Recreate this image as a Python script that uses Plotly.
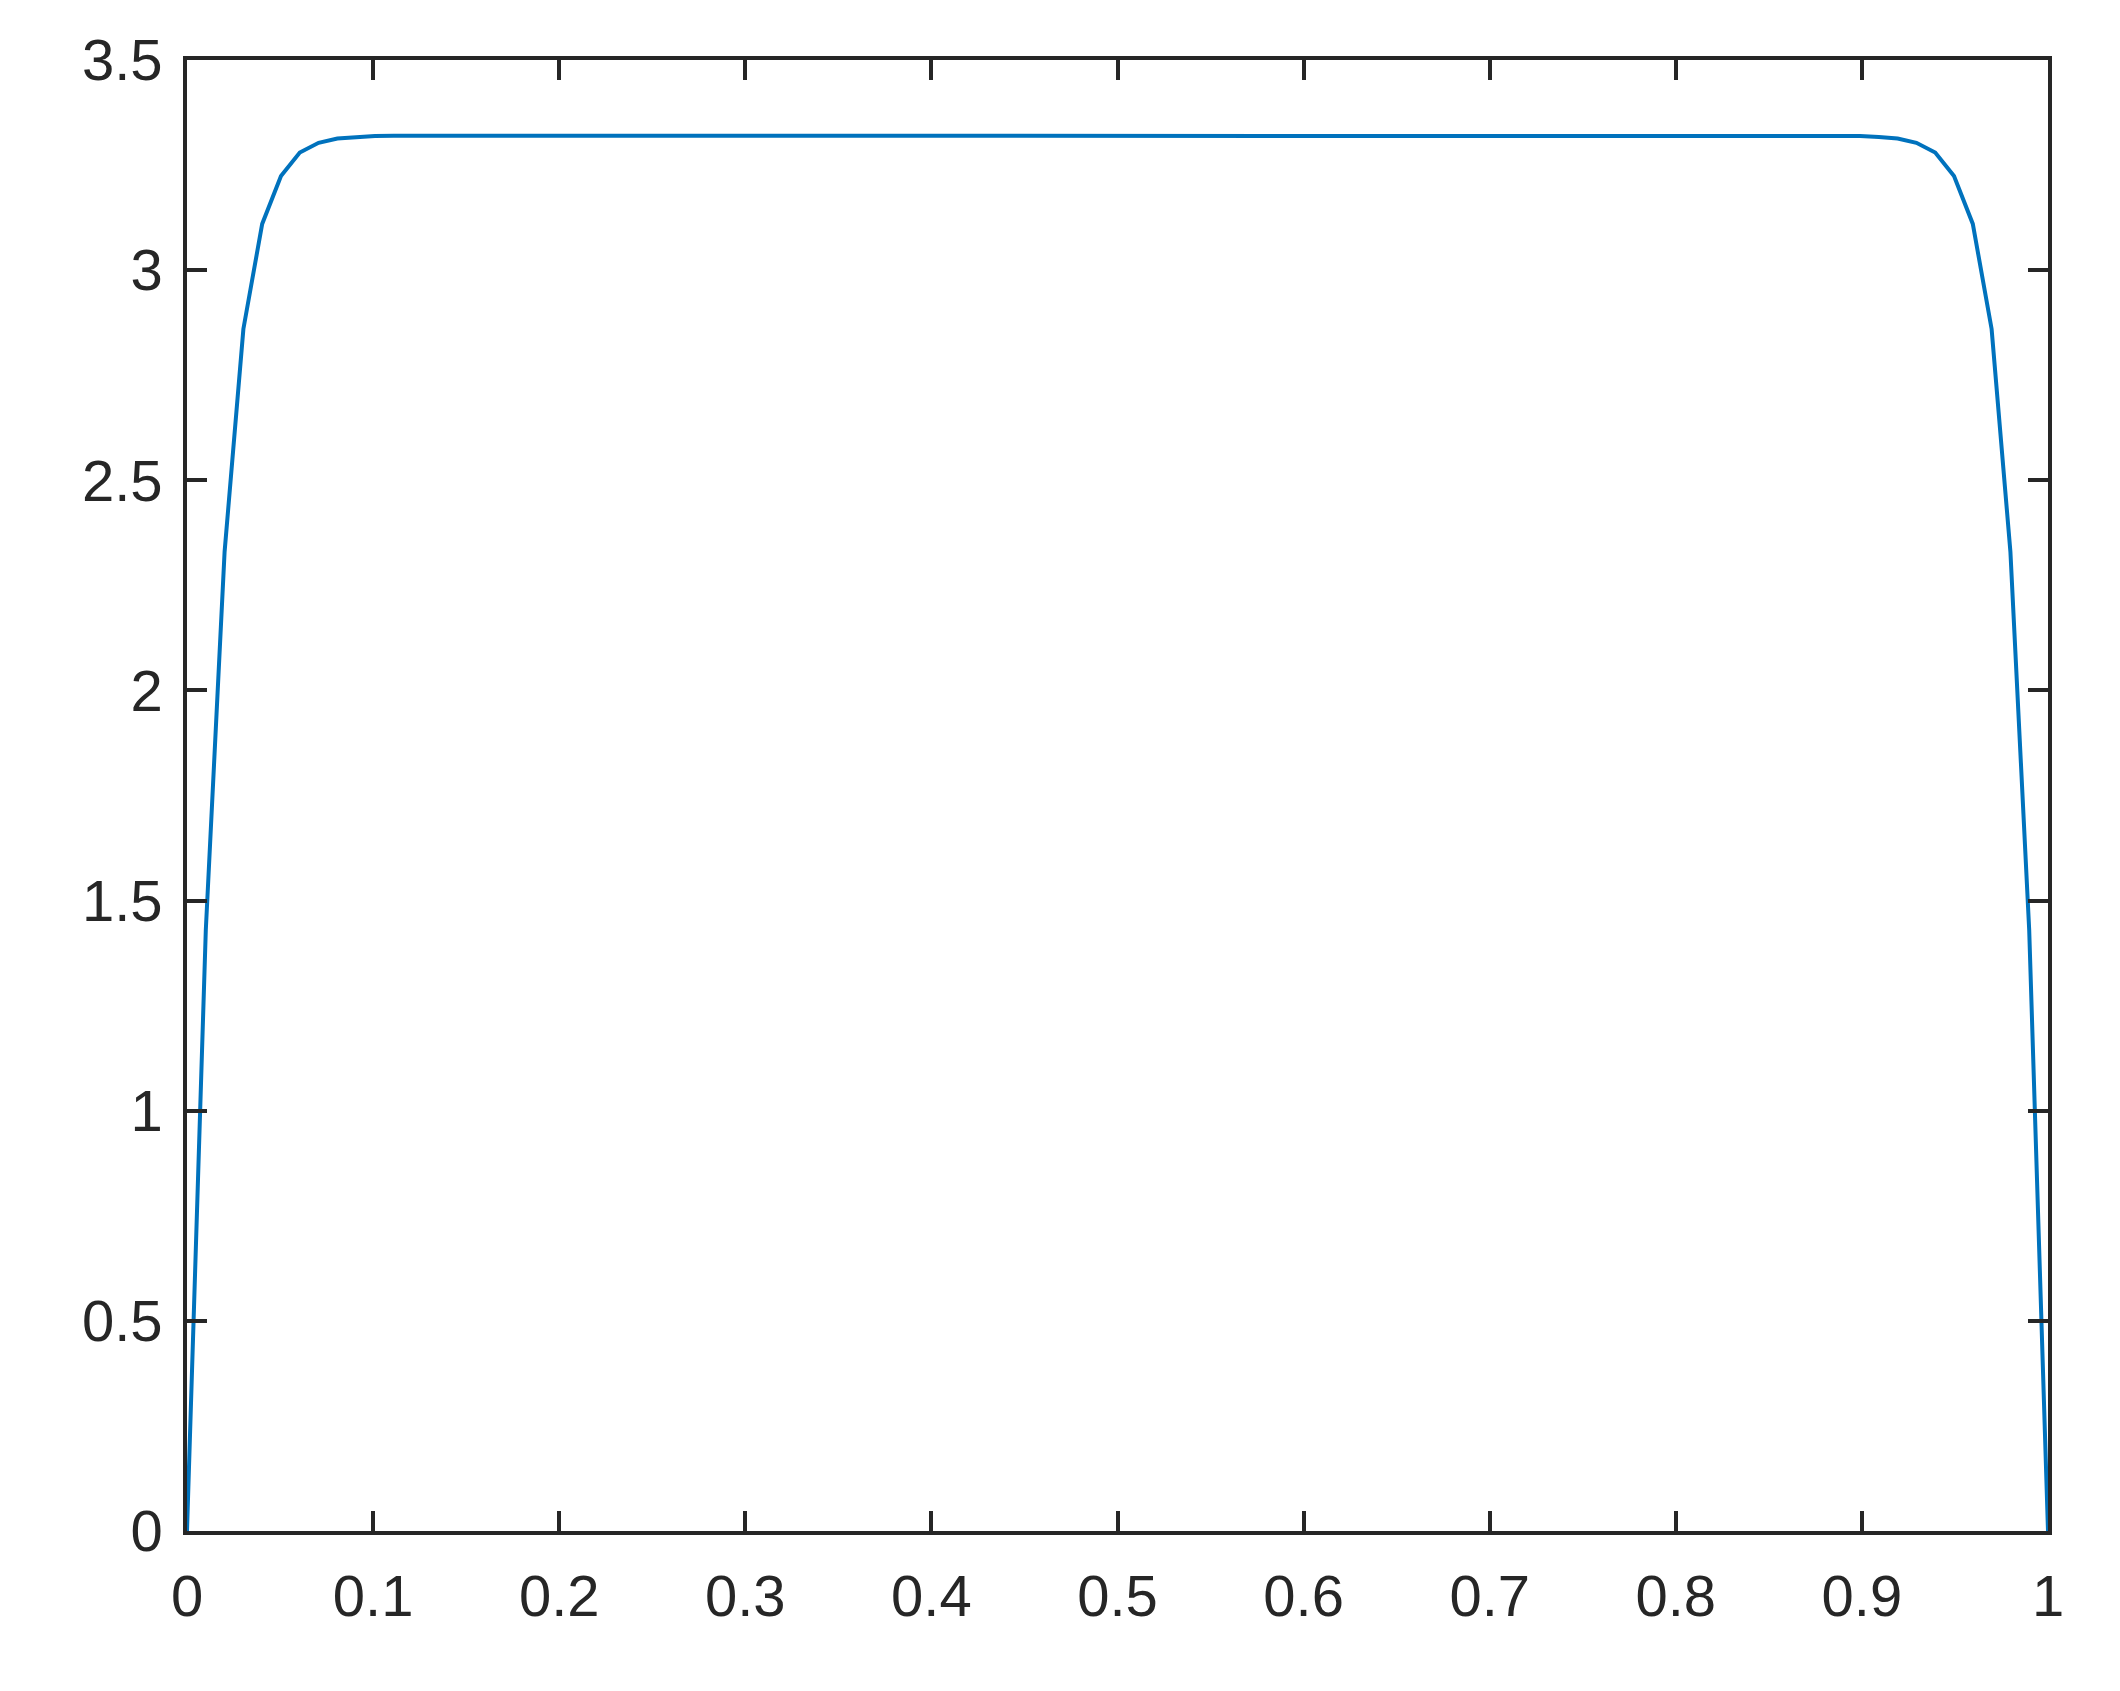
import plotly.graph_objects as go

# x grid: 100 evenly spaced points on [0, 1]
x_vals = [i / 99 for i in range(100)]

y_vals = [
    0.0, 1.43, 2.33, 2.86, 3.11, 3.224, 3.28, 3.303, 3.313, 3.317,
    3.319, 3.32, 3.32, 3.32, 3.32, 3.32, 3.32, 3.32, 3.32, 3.32,
    3.32, 3.32, 3.32, 3.32, 3.32, 3.32, 3.32, 3.32, 3.32, 3.32,
    3.32, 3.32, 3.32, 3.32, 3.32, 3.32, 3.32, 3.32, 3.32, 3.32,
    3.32, 3.32, 3.32, 3.32, 3.32, 3.32, 3.32, 3.32, 3.32, 3.32,
    3.32, 3.32, 3.32, 3.32, 3.32, 3.32, 3.32, 3.32, 3.32, 3.32,
    3.32, 3.32, 3.32, 3.32, 3.32, 3.32, 3.32, 3.32, 3.32, 3.32,
    3.32, 3.32, 3.32, 3.32, 3.32, 3.32, 3.32, 3.32, 3.32, 3.32,
    3.32, 3.32, 3.32, 3.32, 3.32, 3.32, 3.32, 3.32, 3.32, 3.319,
    3.317, 3.313, 3.303, 3.28, 3.224, 3.11, 2.86, 2.33, 1.43, 0.0,
]

x_ticks = [0, 0.1, 0.2, 0.3, 0.4, 0.5, 0.6, 0.7, 0.8, 0.9, 1]
x_tick_text = ["0", "0.1", "0.2", "0.3", "0.4", "0.5", "0.6", "0.7", "0.8", "0.9", "1"]
y_ticks = [0, 0.5, 1, 1.5, 2, 2.5, 3, 3.5]
y_tick_text = ["0", "0.5", "1", "1.5", "2", "2.5", "3", "3.5"]

axis_color = "#262626"

fig = go.Figure()
fig.add_trace(go.Scatter(
    x=x_vals, y=y_vals, mode="lines",
    line=dict(color="#0072BD", width=4),
    showlegend=False,
))

common = dict(
    showgrid=False, zeroline=False,
    showline=True, linecolor=axis_color, linewidth=3.5,
    mirror="ticks", ticks="inside", ticklen=20, tickwidth=3.5, tickcolor=axis_color,
    tickfont=dict(family="Liberation Sans, Arial, sans-serif", size=58, color=axis_color),
)

fig.update_xaxes(range=[0, 1], tickvals=x_ticks, ticktext=x_tick_text,
                 ticklabelstandoff=12, **common)
fig.update_yaxes(range=[0, 3.5], tickvals=y_ticks, ticktext=y_tick_text,
                 ticklabelstandoff=9, **common)

fig.update_layout(
    width=2120, height=1691,
    margin=dict(l=179, r=80, t=52, b=168, pad=0),
    paper_bgcolor="white", plot_bgcolor="white",
)

fig.write_html("out.html")
